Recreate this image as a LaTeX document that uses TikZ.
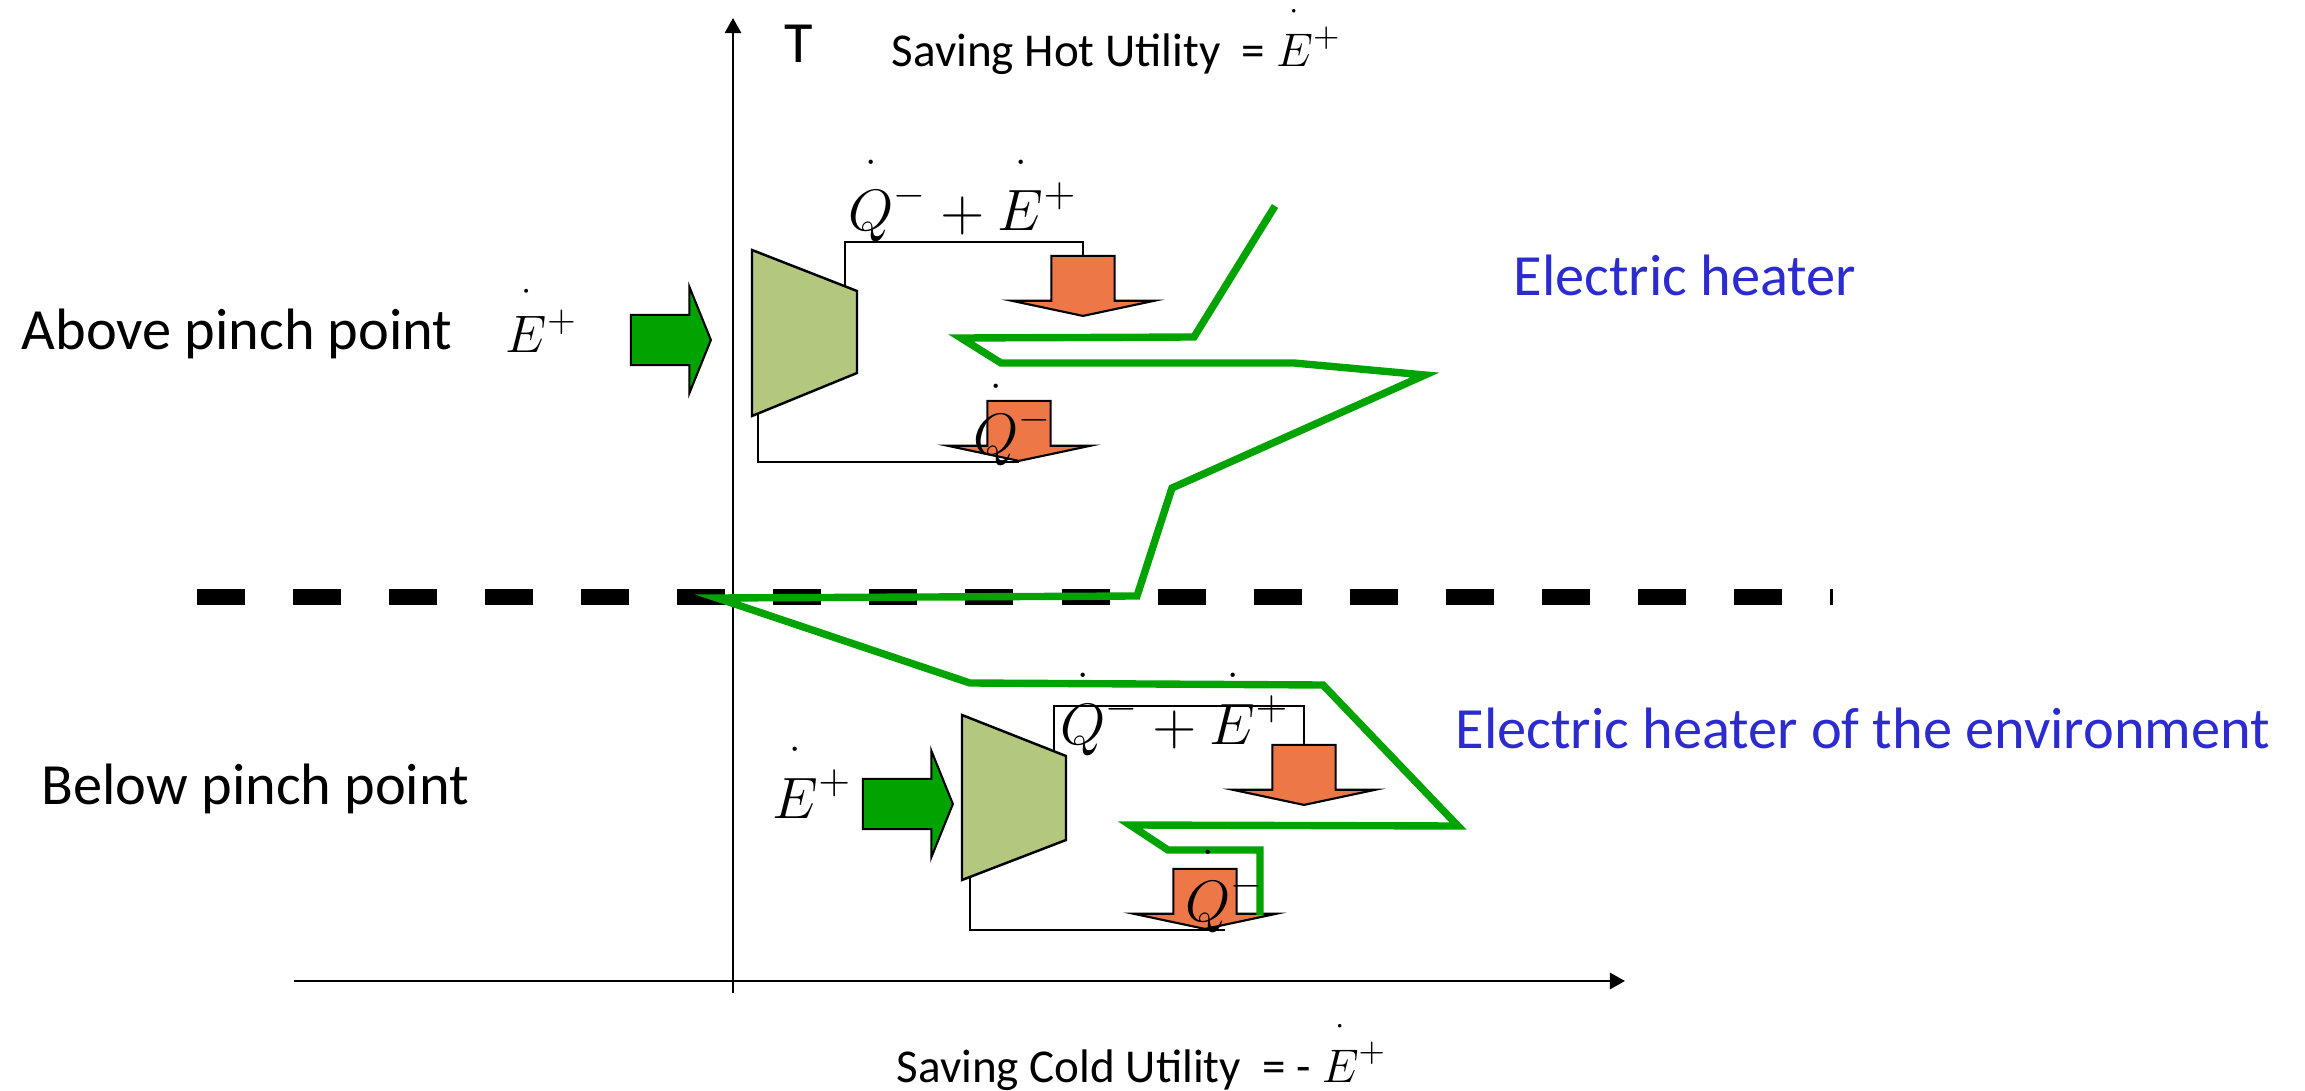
\documentclass[tikz,border=0pt]{standalone}
\usepackage{fix-cm}
\usepackage{amsmath}
\usepackage{fontspec}
\setmainfont{Carlito}
\usetikzlibrary{arrows.meta, shapes.arrows, positioning}

\definecolor{pinchgreen}{RGB}{0,163,0}
\definecolor{heaterblue}{RGB}{43,43,208}
\definecolor{heatorange}{RGB}{237,119,71}
\definecolor{pumpolive}{RGB}{179,200,126}

\newcommand{\hdot}[1]{\mathord{\ooalign{$#1$\cr\hidewidth\smash{\raisebox{1.0em}{$\scriptstyle\cdot$}}\hidewidth\cr}}}

\tikzset{
	bigtext/.style={font=\fontsize{16.6}{20}\selectfont, inner sep=0pt}
}
\tikzset{
	smalltext/.style={font=\fontsize{13.4}{16}\selectfont, inner sep=0pt}
}
\tikzset{
	bluetext/.style={bigtext, text=heaterblue}
}

\begin{document}
\begin{tikzpicture}[x=0.01cm, y=-0.01cm]

  \tikzset{
    axisline/.style={line width=0.75pt, -{Triangle[length=4.3pt, width=4.6pt]}},
    pinchline/.style={line width=4.8pt, dash pattern=on 0.48cm off 0.48cm},
    pumpbox/.style={draw=black, line width=0.7pt, fill=pumpolive},
    workarrow/.style={
        single arrow,
        draw=black,
        line width=0.6pt,
        fill=pinchgreen,
        inner xsep=0pt,
        inner ysep=0.24cm,
        single arrow head extend=0.28cm,
        single arrow tip angle=136
      },
    heatarrow/.style={
        single arrow,
        draw=black,
        line width=0.6pt,
        fill=heatorange,
        inner xsep=0pt,
        inner ysep=0.305cm,
        minimum height=0.6cm,
        single arrow head extend=0.4cm,
        single arrow tip angle=156,
        rotate=-90
      },
    wire/.style={draw=black, line width=0.6pt},
    zigzag/.style={draw=pinchgreen, line width=2.1pt}
  }

  \useasboundingbox (0,0) rectangle (2305,1091);

  % axes
  \coordinate (tbottom) at (733,993);
  \coordinate (ttop) at (733,18);
  \coordinate (hleft) at (294,981);
  \coordinate (hright) at (1625,981);
  \draw[axisline] (tbottom) -- (ttop);
  \draw[axisline] (hleft) -- (hright);

  % pinch line
  \coordinate (pinchL) at (197,597);
  \coordinate (pinchR) at (1833,597);
  \draw[pinchline] (pinchL) -- (pinchR);

  % heat pumps
  \draw[pumpbox] (752,250) -- (857,291) -- (857,373) -- (752,416) -- cycle;
  \draw[pumpbox] (962,715) -- (1066,756) -- (1066,840) -- (962,880) -- cycle;
  \coordinate (pumpAtop) at (845,286);
  \coordinate (pumpAbot) at (758,414);
  \coordinate (pumpBtop) at (1054,751);
  \coordinate (pumpBbot) at (970,877);

  \node[workarrow, minimum height=0.8cm, anchor=tip] (powA) at (712,340) {};
  \node[workarrow, minimum height=0.9cm, anchor=tip] (powB) at (954,804) {};

  \node[heatarrow, anchor=tip] (heatA) at (1083,317) {};
  \node[heatarrow, anchor=tip] (coolA) at (1019,462) {};
  \node[heatarrow, anchor=tip] (heatB) at (1304,806) {};
  \node[heatarrow, anchor=tip] (coolB) at (1205,930) {};

  \draw[wire] (pumpAtop) -- ++(0,-44) -| (heatA.tail);
  \draw[wire] (pumpAbot) |- (coolA.tip);
  \draw[wire] (pumpBtop) -- ++(0,-45) -| (heatB.tail);
  \draw[wire] (pumpBbot) |- (coolB.tip) -- ++(20,0);

  % composite curve
  \draw[zigzag] (1275,206) -- (1194,337) -- (961,338) -- (1001,363) -- (1294,363)
    -- (1425,375) -- (1172,488) -- (1137,596) -- (717,598) -- (970,683)
    -- (1323,685) -- (1458,826) -- (1130,825) -- (1168,850) -- (1260,850) -- (1260,915);

  % labels
  \node[bigtext, anchor=base west] (taxis) at (784,63) {T};
  \node[smalltext, anchor=base west] (hotsave) at (891,67) {Saving Hot Utility\ \ = $\hdot{E}^{+}$};
  \node[smalltext, anchor=base west] (coldsave) at (896,1082) {Saving Cold Utility\ \ = - $\hdot{E}^{+}$};

  \node[bigtext, anchor=base west] (above) at (21,350) {Above pinch point};
  \node[anchor=base west, inner sep=0pt, font=\fontsize{15}{18}\selectfont] (aboveE) at (505,353) {$\hdot{E}^{+}$};
  \node[bigtext, anchor=base west] (below) at (41,804) {Below pinch point};
  \node[bigtext, anchor=base west] (belowE) at (772,818) {$\hdot{E}^{+}$};

  \node[bluetext, anchor=base west] (heaterA) at (1513,295) {Electric heater};
  \node[bluetext, anchor=base west] (heaterB) at (1455,748) {Electric heater of the environment};

  \node[bigtext, anchor=base west] (qeA) at (848,231) {$\hdot{Q}^{-}+\hdot{E}^{+}$};
  \node[bigtext, anchor=base west] (qA) at (973,455) {$\hdot{Q}^{-}$};
  \node[bigtext, anchor=base west] (qeB) at (1060,744) {$\hdot{Q}^{-}+\hdot{E}^{+}$};
  \node[bigtext, anchor=base west] (qB) at (1185,921) {$\hdot{Q}^{-}$};

\end{tikzpicture}
\end{document}
